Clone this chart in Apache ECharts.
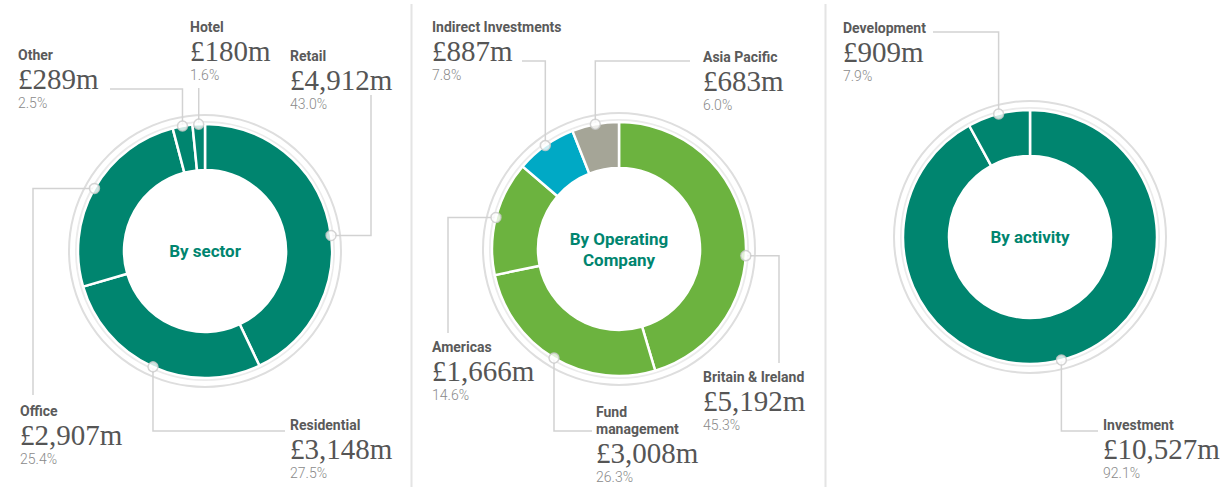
<!DOCTYPE html>
<html>
<head>
<meta charset="utf-8">
<title>Portfolio breakdown</title>
<script src="https://cdn.jsdelivr.net/npm/echarts@6/dist/echarts.min.js"></script>
<style>
  html, body { margin: 0; padding: 0; background: #fff; }
  #chart { width: 1223px; height: 487px; }
</style>
</head>
<body>
<div id="chart"></div>
<script>
// values in £m, percentages as printed
var sectorNames = ['Retail', 'Residential', 'Office', 'Other', 'Hotel'];
var sectorValues = [4912, 3148, 2907, 289, 180];
var sectorPct = ['43.0%', '27.5%', '25.4%', '2.5%', '1.6%'];

var companyNames = ['Britain & Ireland', 'Fund\nmanagement', 'Americas', 'Indirect Investments', 'Asia Pacific'];
var companyValues = [5192, 3008, 1666, 887, 683];
var companyPct = ['45.3%', '26.3%', '14.6%', '7.8%', '6.0%'];

var activityNames = ['Investment', 'Development'];
var activityValues = [10527, 909];
var activityPct = ['92.1%', '7.9%'];

var TEAL = '#00856f';
var GREEN = '#6cb33f';
var R_IN = 81, R_OUT = 127;

// where each label block sits and how its leader line bends
// (at = angle where the leader leaves the ring, defaults to the slice middle)
var panels = [
    {
        title: 'By sector', center: [205, 251],
        names: sectorNames, values: sectorValues, pct: sectorPct,
        colors: [TEAL, TEAL, TEAL, TEAL, TEAL],
        labels: [
            { x: 290, y: 47, route: 'h', to: [371, 95], at: 83 },
            { x: 290, y: 416, route: 'v', to: [285, 431] },
            { x: 20, y: 402, route: 'h', to: [33, 395] },
            { x: 18, y: 46, route: 'v', to: [110, 89] },
            { x: 190, y: 18, route: 'v', to: [null, 88] }
        ]
    },
    {
        title: 'By Operating\nCompany', center: [619, 249],
        names: companyNames, values: companyValues, pct: companyPct,
        colors: [GREEN, GREEN, GREEN, '#00a9c5', '#a5a597'],
        labels: [
            { x: 703, y: 368, route: 'h', to: [779, 363], at: 93 },
            { x: 596, y: 403, route: 'v', to: [592, 431] },
            { x: 432, y: 338, route: 'h', to: [448, 333] },
            { x: 432, y: 18, route: 'v', to: [522, 61] },
            { x: 703, y: 48, route: 'v', to: [690, 61] }
        ]
    },
    {
        title: 'By activity', center: [1030, 237],
        names: activityNames, values: activityValues, pct: activityPct,
        colors: [TEAL, TEAL],
        labels: [
            { x: 1103, y: 416, route: 'v', to: [1098, 431] },
            { x: 843, y: 19, route: 'v', to: [933, 32] }
        ]
    }
];

function midAngles(values) {
    var total = values.reduce(function (a, b) { return a + b; }, 0);
    var cum = 0;
    return values.map(function (v) {
        var a = (cum + v / 2) / total * 360;
        cum += v;
        return a;
    });
}

function anchor(center, deg) {
    var r = deg * Math.PI / 180;
    return [center[0] + R_OUT * Math.sin(r), center[1] - R_OUT * Math.cos(r)];
}

function leader(p, l) {
    if (l.route === 'h') {
        return [p, [l.to[0], p[1]], [l.to[0], l.to[1]]];
    }
    if (l.to[0] == null) {
        return [p, [p[0], l.to[1]]];
    }
    return [p, [p[0], l.to[1]], [l.to[0], l.to[1]]];
}

function money(v) {
    return '£' + String(v).replace(/\B(?=(\d{3})+(?!\d))/g, ',') + 'm';
}

var rich = {
    n: { fontFamily: 'Roboto', fontWeight: 'bold', fontSize: 14, lineHeight: 17, color: '#5a5a5a' },
    v: { fontFamily: 'Liberation Serif', fontSize: 29, lineHeight: 31, color: '#555555' },
    p: { fontFamily: 'Roboto', fontWeight: 300, fontSize: 14, lineHeight: 17, color: '#8a8a8a' }
};

var series = [];
panels.forEach(function (pn, i) {
    var mids = midAngles(pn.values);
    var anchors = mids.map(function (a, k) {
        var at = pn.labels[k].at;
        return at != null ? at : a;
    });

    // outer thin grey ring, carries the centre caption
    series.push({
        type: 'pie', center: pn.center, radius: [135, 137], silent: true, z: 1,
        animation: false,
        itemStyle: { color: '#dedede' },
        label: {
            show: true, position: 'center', formatter: pn.title,
            fontFamily: 'Roboto', fontWeight: 'bold', fontSize: 17, lineHeight: 21, color: TEAL
        },
        labelLine: { show: false },
        emphasis: { disabled: true },
        data: [{ value: 1, name: pn.title }]
    });
    // soft halo just outside the donut
    series.push({
        type: 'pie', center: pn.center, radius: [126, 130], silent: true, z: 1,
        animation: false,
        itemStyle: { color: '#ebebeb' },
        label: { show: false }, labelLine: { show: false },
        emphasis: { disabled: true },
        data: [{ value: 1 }]
    });
    // the donut itself
    series.push({
        type: 'pie', center: pn.center, radius: [R_IN, R_OUT], z: 3,
        startAngle: 90, clockwise: true, avoidLabelOverlap: false,
        animation: false, silent: true,
        itemStyle: { borderColor: '#fff', borderWidth: 2.5 },
        label: {
            show: true, position: 'outside', rich: rich,
            formatter: function (p) {
                var lines = p.name.split('\n').map(function (s) { return '{n|' + s + '}'; });
                return lines.join('\n') + '\n{v|' + money(p.value) + '}\n{p|' + pn.pct[p.dataIndex] + '}';
            }
        },
        labelLine: { show: true, smooth: false, lineStyle: { color: '#d2d2d2', width: 1.5 } },
        labelLayout: function (params) {
            var l = pn.labels[params.dataIndex];
            var a = anchor(pn.center, anchors[params.dataIndex]);
            return {
                x: l.x, y: l.y, align: 'left', verticalAlign: 'top',
                labelLinePoints: leader(a, l)
            };
        },
        data: pn.names.map(function (n, k) {
            return { name: n, value: pn.values[k], itemStyle: { color: pn.colors[k] } };
        })
    });
    // anchor dots on the donut edge
    series.push({
        type: 'scatter', coordinateSystem: 'polar', polarIndex: i, z: 10,
        animation: false, silent: true,
        symbol: 'circle', symbolSize: 10,
        itemStyle: { color: '#fff', borderColor: '#c9c9c9', borderWidth: 1.5 },
        data: anchors.map(function (a) { return [1, a]; })
    });
});

var chart = echarts.init(document.getElementById('chart'), null, { renderer: 'svg' });
chart.setOption({
    backgroundColor: '#fff',
    animation: false,
    polar: panels.map(function (pn) { return { center: pn.center, radius: R_OUT }; }),
    angleAxis: panels.map(function (pn, i) {
        return { polarIndex: i, type: 'value', min: 0, max: 360, startAngle: 90, clockwise: true, show: false };
    }),
    radiusAxis: panels.map(function (pn, i) {
        return { polarIndex: i, type: 'value', min: 0, max: 1, show: false };
    }),
    graphic: [
        { type: 'line', shape: { x1: 411.5, y1: 4, x2: 411.5, y2: 487 }, style: { stroke: '#e4e4e4', lineWidth: 2 } },
        { type: 'line', shape: { x1: 825.5, y1: 4, x2: 825.5, y2: 487 }, style: { stroke: '#e4e4e4', lineWidth: 2 } }
    ],
    series: series
});
</script>
</body>
</html>
